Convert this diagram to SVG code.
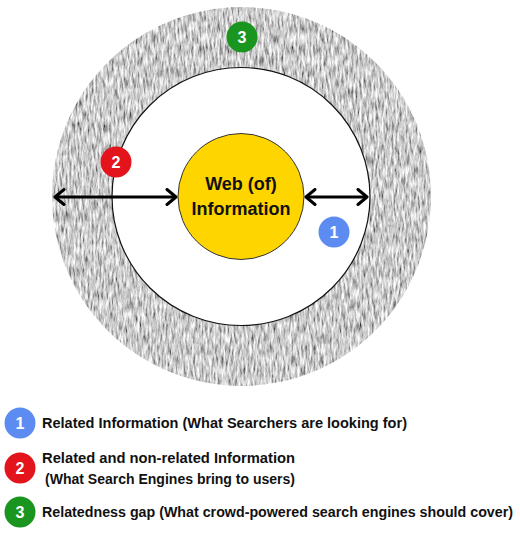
<svg xmlns="http://www.w3.org/2000/svg" width="520" height="535" viewBox="0 0 520 535">
<style>
.lbl{font-family:"Liberation Sans",Arial,sans-serif;font-weight:bold;font-size:14px;fill:#111}
.num{font-family:"Liberation Sans",Arial,sans-serif;font-weight:bold;font-size:16px;fill:#fff;text-anchor:middle}
.core{font-family:"Liberation Sans",Arial,sans-serif;font-weight:bold;font-size:18px;fill:#111;text-anchor:middle}
.arrow{stroke:#000;stroke-width:3;fill:none}
</style>
<defs>
<filter id="knit" x="0" y="0" width="1" height="1" filterUnits="objectBoundingBox">
<feTurbulence type="fractalNoise" baseFrequency="0.5 0.09" numOctaves="3" seed="7" result="n"/>
<feColorMatrix in="n" type="matrix" values="1.5 0 0 0 -0.15  1.5 0 0 0 -0.15  1.5 0 0 0 -0.15  0 0 0 0 1" result="g"/>
<feComposite in="g" in2="SourceGraphic" operator="in"/>
</filter>
<marker id="chev" viewBox="0 0 13 18" refX="11" refY="9" markerWidth="13" markerHeight="18" markerUnits="userSpaceOnUse" orient="auto-start-reverse">
<path d="M2,1.5 L11,9 L2,16.5" fill="none" stroke="#000" stroke-width="3" stroke-linecap="round" stroke-linejoin="round"/>
</marker>
</defs>
<rect width="520" height="535" fill="#fff"/>
<g id="gap-ring">
<path d="M52,196.5 a189.5,189.5 0 1,0 379,0 a189.5,189.5 0 1,0 -379,0 Z M112,196.5 a129,129 0 1,0 258,0 a129,129 0 1,0 -258,0 Z" fill="#999" fill-rule="evenodd" filter="url(#knit)"/>
</g>
<g id="search-results">
<circle cx="241" cy="196.5" r="129" fill="#fff" stroke="#111" stroke-width="1.2"/>
</g>
<g id="web-core">
<circle cx="241" cy="196.5" r="63" fill="#FFD500" stroke="#333" stroke-width="1"/>
<text class="core" x="241" y="189.5">Web (of)</text>
<text class="core" x="241" y="214.5">Information</text>
</g>
<g id="connectors">
<line class="arrow" x1="55" y1="197" x2="176" y2="197" marker-start="url(#chev)" marker-end="url(#chev)"/>
<line class="arrow" x1="306" y1="197" x2="367" y2="197" marker-start="url(#chev)" marker-end="url(#chev)"/>
</g>
<g id="badge-3">
<circle cx="242" cy="37" r="15.5" fill="#1A9620"/>
<text class="num" x="242" y="43">3</text>
</g>
<g id="badge-2">
<circle cx="116" cy="162" r="15.5" fill="#E3141B"/>
<text class="num" x="116" y="168">2</text>
</g>
<g id="badge-1">
<circle cx="334" cy="232" r="15.5" fill="#5C8CF2"/>
<text class="num" x="334" y="238">1</text>
</g>
<g id="legend-1">
<circle cx="20" cy="423" r="15.5" fill="#5C8CF2"/>
<text class="num" x="20" y="429">1</text>
<text class="lbl" x="42" y="428" textLength="365" lengthAdjust="spacingAndGlyphs">Related Information (What Searchers are looking for)</text>
</g>
<g id="legend-2">
<circle cx="20" cy="468" r="15.5" fill="#E3141B"/>
<text class="num" x="20" y="474">2</text>
<text class="lbl" x="42" y="463" textLength="253" lengthAdjust="spacingAndGlyphs">Related and non-related Information</text>
<text class="lbl" x="45" y="484" textLength="250" lengthAdjust="spacingAndGlyphs">(What Search Engines bring to users)</text>
</g>
<g id="legend-3">
<circle cx="20" cy="512" r="15.5" fill="#1A9620"/>
<text class="num" x="20" y="518">3</text>
<text class="lbl" x="42" y="517" textLength="471" lengthAdjust="spacingAndGlyphs">Relatedness gap (What crowd-powered search engines should cover)</text>
</g>
</svg>
